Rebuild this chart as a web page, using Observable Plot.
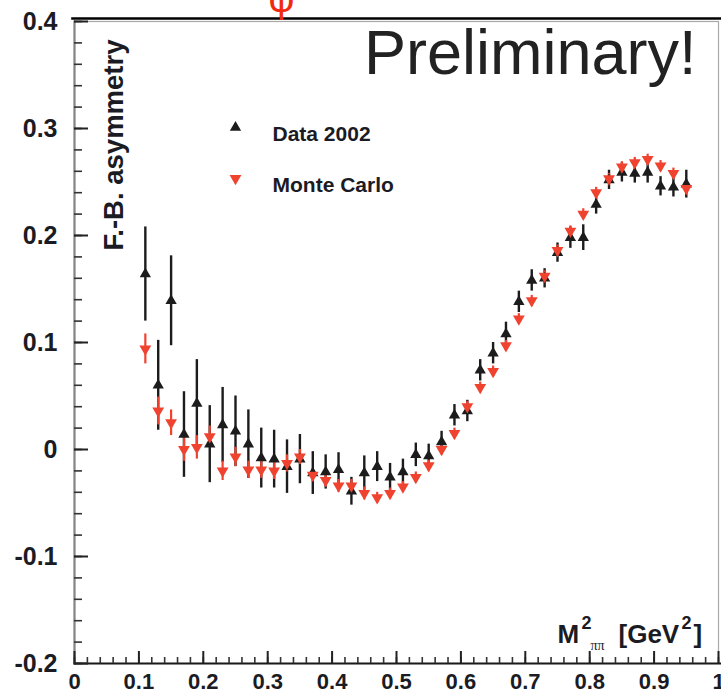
<!DOCTYPE html>
<html><head><meta charset="utf-8">
<script src="https://cdn.jsdelivr.net/npm/d3@7"></script>
<script src="https://cdn.jsdelivr.net/npm/@observablehq/plot@0.6"></script>
<style>
html,body{margin:0;padding:0;background:#fff}
#chart svg{display:block}
</style>
</head><body><div id="chart"></div>
<script>
// ---- data ----
const massSq = [0.11,0.13,0.15,0.17,0.19,0.21,0.23,0.25,0.27,0.29,0.31,0.33,0.35,0.37,0.39,0.41,0.43,0.45,0.47,0.49,0.51,0.53,0.55,0.57,0.59,0.61,0.63,0.65,0.67,0.69,0.71,0.73,0.75,0.77,0.79,0.81,0.83,0.85,0.87,0.89,0.91,0.93,0.95];
const dataVal = [0.164,0.060,0.139,0.014,0.043,0.005,0.023,0.017,0.005,-0.008,-0.009,-0.016,-0.009,-0.022,-0.021,-0.019,-0.039,-0.022,-0.016,-0.026,-0.021,-0.005,-0.006,0.007,0.032,0.036,0.074,0.090,0.108,0.138,0.158,0.160,0.184,0.198,0.198,0.229,0.252,0.259,0.258,0.259,0.246,0.245,0.248];
const dataErr = [0.044,0.042,0.042,0.040,0.041,0.036,0.035,0.033,0.032,0.028,0.027,0.025,0.023,0.020,0.016,0.016,0.013,0.016,0.014,0.013,0.012,0.011,0.011,0.010,0.010,0.010,0.010,0.010,0.011,0.010,0.010,0.009,0.009,0.010,0.012,0.009,0.009,0.009,0.009,0.010,0.009,0.009,0.013];
const mcVal = [0.094,0.036,0.025,0.000,0.002,0.012,-0.020,-0.007,-0.019,-0.019,-0.020,-0.013,-0.007,-0.024,-0.029,-0.034,-0.034,-0.041,-0.045,-0.041,-0.035,-0.026,-0.015,0.000,0.015,0.040,0.058,0.073,0.097,0.122,0.139,0.162,0.186,0.204,0.220,0.240,0.253,0.264,0.268,0.271,0.265,0.258,0.244];
const mcErr = [0.014,0.013,0.012,0.011,0.011,0.010,0.009,0.009,0.008,0.008,0.008,0.008,0.007,0.006,0.006,0.006,0.006,0.006,0.005,0.005,0.005,0.005,0.005,0.005,0.005,0.005,0.005,0.005,0.005,0.005,0.005,0.005,0.005,0.005,0.005,0.005,0.005,0.005,0.005,0.005,0.005,0.005,0.005];

const xTicks = [0,0.1,0.2,0.3,0.4,0.5,0.6,0.7,0.8,0.9,1];
const xTickLabels = ["0","0.1","0.2","0.3","0.4","0.5","0.6","0.7","0.8","0.9","1"];
const yTicks = [-0.2,-0.1,0,0.1,0.2,0.3,0.4];
const yTickLabels = ["-0.2","-0.1","0","0.1","0.2","0.3","0.4"];
const legendLabels = ["Data 2002","Monte Carlo"];
const yLabel = "F.-B. asymmetry";
const stamp = "Preliminary!";

const xMinor = d3.range(0, 1.0001, 0.02);
const yMinor = d3.range(-0.2, 0.4001, 0.02);

const rows = massSq.map((m, i) => ({m, d: dataVal[i], de: dataErr[i], mc: mcVal[i], me: mcErr[i]}));

const BLACK = "#1c1c1c", RED = "#ef4330", INK = "#1b1b24";
const FONT = "'Liberation Sans', Arial, Helvetica, sans-serif";
const W = 721, H = 694, ML = 74, MR = 3, MT = 21, MB = 31;
const PW = W - ML - MR, PH = H - MT - MB;

const chart = Plot.plot({
  width: W, height: H,
  marginLeft: ML, marginRight: MR, marginTop: MT, marginBottom: MB,
  x: {domain: [0, 1]},
  y: {domain: [-0.2, 0.4]},
  style: {fontFamily: FONT, background: "#fff", overflow: "hidden"},
  marks: [
    Plot.frame({stroke: "#a8a8a8", strokeWidth: 1.2}),
    Plot.frame({anchor: "top", stroke: "#000", strokeWidth: 2.6, dy: -3, insetLeft: -2, insetRight: -4}),
    Plot.frame({anchor: "left", stroke: "#858585", strokeWidth: 2.2}),
    Plot.frame({anchor: "bottom", stroke: "#1a1a1a", strokeWidth: 2.2, insetRight: -4}),
    // inward ticks
    Plot.tickY(yMinor, {y: d => d, insetRight: PW - 8, stroke: "#333", strokeWidth: 1.6}),
    Plot.tickY(yTicks, {y: d => d, insetRight: PW - 14, stroke: "#222", strokeWidth: 2}),
    Plot.tickX(xMinor, {x: d => d, insetTop: PH - 6, stroke: "#333", strokeWidth: 1.6}),
    Plot.tickX(xTicks, {x: d => d, insetTop: PH - 12, stroke: "#222", strokeWidth: 2}),
    // tick labels
    Plot.axisY(yTicks, {tickSize: 0, tickPadding: 17, tickFormat: d => yTickLabels[yTicks.indexOf(d)],
      fontSize: 25, fontWeight: "bold", fill: INK, label: null}),
    Plot.axisX(xTicks, {tickSize: 0, tickPadding: 10, tickFormat: d => xTickLabels[xTicks.indexOf(d)],
      fontSize: 22, fontWeight: "bold", fill: INK, label: null}),
    // axis titles
    Plot.text([yLabel], {frameAnchor: "top-left", text: d => d, rotate: -90, textAnchor: "end",
      dx: 29, dy: 18, fontSize: 27.5, fontWeight: "bold", fill: INK}),
    Plot.text(["M"], {frameAnchor: "bottom-left", text: d => d, textAnchor: "start", lineAnchor: "bottom",
      dx: 483, dy: -21, fontSize: 26, fontWeight: "bold", fill: INK}),
    Plot.text(["2"], {frameAnchor: "bottom-left", text: d => d, textAnchor: "start", lineAnchor: "bottom",
      dx: 507, dy: -35, fontSize: 18, fontWeight: "bold", fill: INK}),
    Plot.text(["ππ"], {frameAnchor: "bottom-left", text: d => d, textAnchor: "start", lineAnchor: "bottom",
      dx: 516, dy: -14, fontSize: 14, fontFamily: "'Liberation Serif', serif", fill: INK}),
    Plot.text(["[GeV"], {frameAnchor: "bottom-left", text: d => d, textAnchor: "start", lineAnchor: "bottom",
      dx: 544, dy: -21, fontSize: 26, fontWeight: "bold", fill: INK}),
    Plot.text(["2"], {frameAnchor: "bottom-left", text: d => d, textAnchor: "start", lineAnchor: "bottom",
      dx: 607, dy: -35, fontSize: 18, fontWeight: "bold", fill: INK}),
    Plot.text(["]"], {frameAnchor: "bottom-left", text: d => d, textAnchor: "start", lineAnchor: "bottom",
      dx: 619, dy: -21, fontSize: 26, fontWeight: "bold", fill: INK}),
    // stamp + cut red symbol at top
    Plot.text([stamp], {frameAnchor: "top-right", text: d => d, textAnchor: "end", lineAnchor: "bottom",
      dx: -22, dy: 52, fontSize: 63, fill: "#222"}),
    Plot.text(["φ"], {frameAnchor: "top-left", text: d => d, textAnchor: "middle", lineAnchor: "bottom",
      dx: 207, dy: -10, fontSize: 40, fill: "#f02a10"}),
    // data error bars
    Plot.ruleX(rows, {x: "m", y1: d => d.d - d.de, y2: d => d.d + d.de, stroke: BLACK, strokeWidth: 2.4}),
    Plot.ruleX(rows, {x: "m", y1: d => d.mc - d.me, y2: d => d.mc + d.me, stroke: RED, strokeWidth: 2.2}),
    // markers
    Plot.dot(rows, {x: "m", y: "d", symbol: "triangle", r: 4.2, fill: BLACK, stroke: null}),
    Plot.dot(rows, {x: "m", y: "mc", symbol: "triangle", rotate: 180, r: 4.4, fill: RED, stroke: null}),
    // legend
    Plot.dot([legendLabels[0]], {frameAnchor: "top-left", dx: 161, dy: 106, symbol: "triangle", r: 4.2, fill: BLACK}),
    Plot.dot([legendLabels[1]], {frameAnchor: "top-left", dx: 161, dy: 157, symbol: "triangle", rotate: 180, r: 4.4, fill: RED}),
    Plot.text([legendLabels[0]], {frameAnchor: "top-left", text: d => d, textAnchor: "start",
      dx: 198, dy: 105, fontSize: 21, fontWeight: "bold", fill: INK}),
    Plot.text([legendLabels[1]], {frameAnchor: "top-left", text: d => d, textAnchor: "start",
      dx: 198, dy: 156, fontSize: 21, fontWeight: "bold", fill: INK})
  ]
});
document.getElementById("chart").appendChild(chart);
</script>
</body></html>
